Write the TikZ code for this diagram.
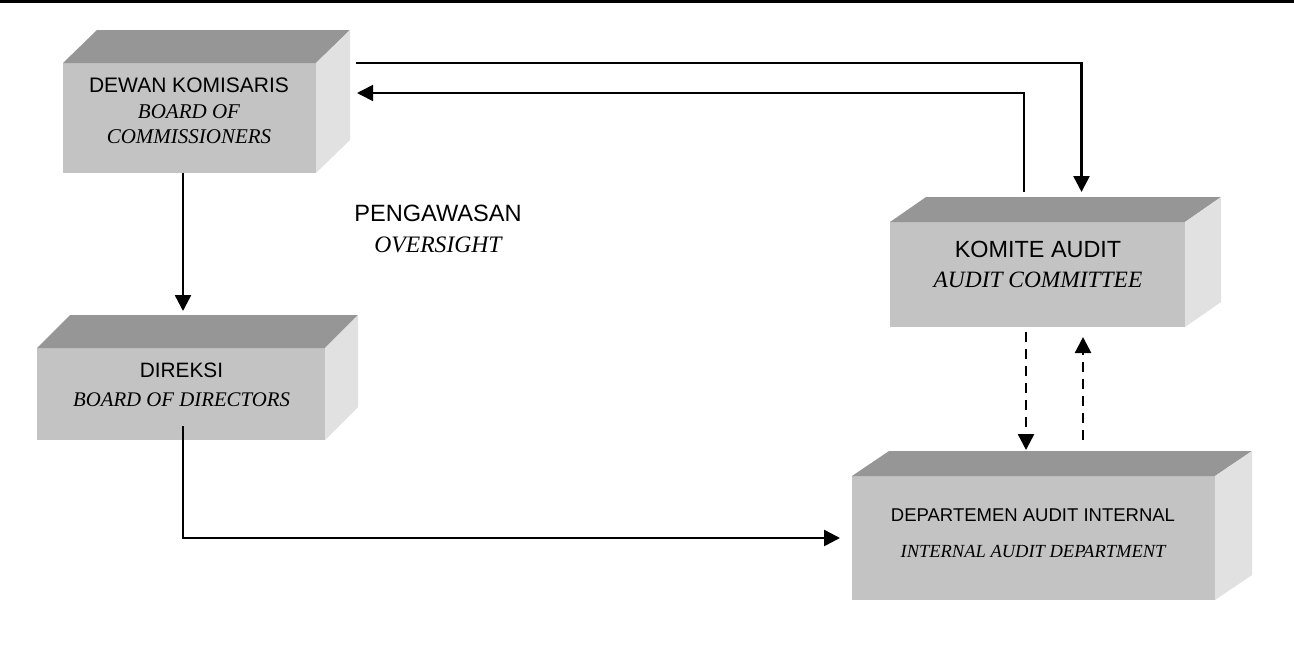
\documentclass[tikz,border=0pt]{standalone}
\usepackage{fontspec}
\setmainfont{Liberation Sans}
\newfontfamily\tnr{Liberation Serif}
\usepackage{xcolor}
\usetikzlibrary{arrows.meta}
\definecolor{frontgray}{HTML}{C3C3C3}
\definecolor{topgray}{HTML}{969696}
\definecolor{sidegray}{HTML}{E1E1E1}
\newcommand{\eng}[1]{{\tnr\itshape #1}}
\tikzstyle{front}=[fill=frontgray, inner sep=0pt, outer sep=0pt]
\tikzstyle{topface}=[fill=topgray]
\tikzstyle{sideface}=[fill=sidegray]
\tikzstyle{boxtext}=[align=center, inner sep=0pt]
\tikzstyle{arr}=[line width=1.25pt, -{Triangle[length=8pt,width=8pt]}]
\tikzstyle{dasharr}=[arr, dash pattern=on 5pt off 3.5pt]

\begin{document}
\begin{tikzpicture}[x=0.5pt, y=-0.5pt]
		\useasboundingbox (0,0) rectangle (1294,664);
		\draw[line width=1.5pt] (0,1.5) -- (1294,1.5);
		%%%%%%%
		\node(dk)[front, minimum width=126.5pt, minimum height=55pt] at (189.5,118) {};
		\fill[topface] (dk.north west) -- ++(34,-33) -- ([shift={(34,-33)}]dk.north east) -- (dk.north east) -- cycle;
		\fill[sideface] (dk.north east) -- ++(34,-33) -- ([shift={(34,-33)}]dk.south east) -- (dk.south east) -- cycle;
		\node(dk-text)[boxtext, font=\fontsize{10.5}{12.75}\selectfont] at (189,111) {DEWAN KOMISARIS\\ \eng{BOARD OF}\\ \eng{COMMISSIONERS}};
		%%%%%%%
		\node(dir)[front, minimum width=144pt, minimum height=46pt] at (181,394) {};
		\fill[topface] (dir.north west) -- ++(33,-33) -- ([shift={(33,-33)}]dir.north east) -- (dir.north east) -- cycle;
		\fill[sideface] (dir.north east) -- ++(33,-33) -- ([shift={(33,-33)}]dir.south east) -- (dir.south east) -- cycle;
		\node(dir-text)[boxtext, font=\fontsize{10.4}{14.5}\selectfont] at (181.5,385) {DIREKSI\\ \eng{BOARD OF DIRECTORS}};
		%%%%%%%
		\node(ka)[front, minimum width=147.5pt, minimum height=52.5pt] at (1037.5,274.5) {};
		\fill[topface] (ka.north west) -- ++(36,-25) -- ([shift={(36,-25)}]ka.north east) -- (ka.north east) -- cycle;
		\fill[sideface] (ka.north east) -- ++(36,-25) -- ([shift={(36,-25)}]ka.south east) -- (ka.south east) -- cycle;
		\node(ka-text)[boxtext, font=\fontsize{11.7}{15}\selectfont] at (1038,264.5) {KOMITE AUDIT\\ \eng{AUDIT COMMITTEE}};
		%%%%%%%
		\node(dept)[front, minimum width=181.5pt, minimum height=62pt] at (1033.5,538) {};
		\fill[topface] (dept.north west) -- ++(37,-25) -- ([shift={(37,-25)}]dept.north east) -- (dept.north east) -- cycle;
		\fill[sideface] (dept.north east) -- ++(37,-25) -- ([shift={(37,-25)}]dept.south east) -- (dept.south east) -- cycle;
		\node(dept-text)[boxtext, font=\fontsize{9.25}{18}\selectfont] at (1033,533.5) {DEPARTEMEN AUDIT INTERNAL\\ \eng{INTERNAL AUDIT DEPARTMENT}};
		%%%%%%%
		\node(oversight)[boxtext, font=\fontsize{11.8}{15.5}\selectfont] at (438,229) {PENGAWASAN\\ \eng{OVERSIGHT}};
		%%%%%%%
		\draw[arr] ([xshift=20pt]dk.north east) -| ([xshift=22pt,yshift=15pt]ka.north);
		\draw[arr, line width=0.8pt] ([xshift=-6.75pt,yshift=15pt]ka.north) |- ([xshift=20.5pt,yshift=-15pt]dk.north east);
		\draw[arr] ([xshift=-3.25pt]dk.south) -- ([xshift=1pt,yshift=18.5pt]dir.north);
		\draw[arr] ([xshift=1pt,yshift=7pt]dir.south) |- ([xshift=-6pt]dept.west);
		\draw[dasharr] ([xshift=-5.75pt,yshift=-2.5pt]ka.south) -- ([xshift=-3.75pt,yshift=13pt]dept.north);
		\draw[dasharr] ([xshift=24.75pt,yshift=18pt]dept.north) -- ([xshift=22.75pt,yshift=-5pt]ka.south);
\end{tikzpicture}
\end{document}
